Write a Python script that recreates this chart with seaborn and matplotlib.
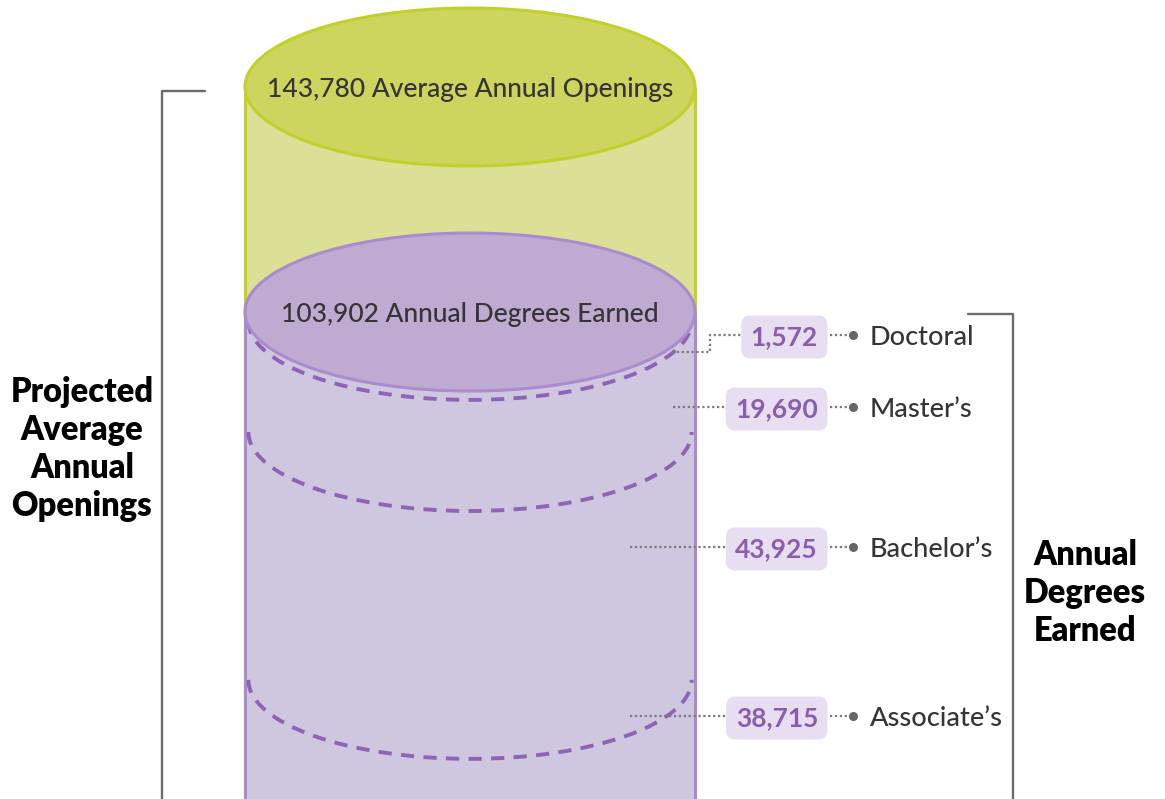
import matplotlib
matplotlib.use("Agg")
import matplotlib.pyplot as plt
import numpy as np
import pandas as pd
import seaborn as sns
from matplotlib.patches import Ellipse, Arc

# ---- data -------------------------------------------------------------
openings_total = 143780
degree_levels = ["Doctoral", "Master\u2019s", "Bachelor\u2019s", "Associate\u2019s"]
degree_counts = [1572, 19690, 43925, 38715]
degrees_total = sum(degree_counts)

# ---- styling ----------------------------------------------------------
GREEN_BODY = "#dbe096"
GREEN_LID = "#cdd55f"
GREEN_EDGE = "#c0d12c"
PURPLE_BODY = "#cfc6e0"
PURPLE_LID = "#bfaad2"
PURPLE_EDGE = "#aa8ccd"
DASH = "#8f63b6"
BOX_FILL = "#e7def1"
VALUE_COLOR = "#8a5db2"
TEXT_DARK = "#353535"
GUIDE = "#7a7a7a"
BRACKET = "#6b6b6b"

W, H = 1165, 799
Y_RANGE = (17600, 159200)     # value range shown on the cylinder axis
CAP = 14000                   # half-height of the elliptical caps (value units)

sns.set_theme(style="white")
plt.rcParams["font.family"] = ["Lato", "DejaVu Sans"]

fig = plt.figure(figsize=(W / 100, H / 100), dpi=100)
ax = fig.add_axes([0, 0, 1, 1])

# cylinder bodies: openings behind, degrees in front
bodies = pd.DataFrame({
    "column": ["all", "all"],
    "layer": ["openings", "degrees"],
    "value": [openings_total, degrees_total],
})
sns.barplot(data=bodies, x="column", y="value", hue="layer",
            hue_order=["openings", "degrees"],
            palette={"openings": GREEN_BODY, "degrees": PURPLE_BODY},
            dodge=False, width=1.0, saturation=1, errorbar=None,
            legend=False, linewidth=0, ax=ax)
bars = ax.patches
bars[0].set_zorder(1)
bars[1].set_zorder(3)

ax.vlines([-0.5, 0.5], 0, openings_total, color=GREEN_EDGE, lw=2.2, zorder=2)
ax.vlines([-0.5, 0.5], 0, degrees_total, color=PURPLE_EDGE, lw=2.2, zorder=4)

# dashed boundaries between degree levels (stacked from the bottom)
stack_from_bottom = degree_counts[::-1]
boundaries = np.cumsum(stack_from_bottom)[:-1]
for b in boundaries:
    ax.add_patch(Arc((0, b), 0.985, 2 * CAP, theta1=180, theta2=360,
                     color=DASH, lw=2.8, linestyle=(0, (3.4, 2.4)), zorder=5))

# elliptical caps
ax.add_patch(Ellipse((0, degrees_total), 1.0, 2 * CAP, fc=PURPLE_LID,
                     ec=PURPLE_EDGE, lw=2.2, zorder=6))
ax.add_patch(Ellipse((0, openings_total), 1.0, 2 * CAP, fc=GREEN_LID,
                     ec=GREEN_EDGE, lw=2.2, zorder=6))

ax.text(0, openings_total, f"{openings_total:,} Average Annual Openings",
        ha="center", va="center_baseline", fontsize=19, color=TEXT_DARK,
        fontweight="medium", zorder=7)
ax.text(0, degrees_total, f"{degrees_total:,} Annual Degrees Earned",
        ha="center", va="center_baseline", fontsize=19, color=TEXT_DARK,
        fontweight="medium", zorder=7)

ax.set_xlim(-0.5 - 245 / 450, 0.5 + (W - 695) / 450)
ax.set_ylim(*Y_RANGE)
ax.axis("off")


# ---- annotations (figure pixel layout) --------------------------------
def fp(x, y):
    return x / W, 1 - y / H


def fig_line(points, **kw):
    xs, ys = zip(*[fp(x, y) for x, y in points])
    ax.plot(xs, ys, transform=fig.transFigure, clip_on=False, **kw)


# brackets
fig_line([(205, 91), (162, 91), (162, 805)], color=BRACKET, lw=1.7, zorder=8)
fig_line([(968, 314), (1013, 314), (1013, 805)], color=BRACKET, lw=1.7, zorder=8)

fig.text(*fp(82, 449), "Projected\nAverage\nAnnual\nOpenings", ha="center",
         va="center", fontsize=23.5, fontweight="heavy", color="black",
         linespacing=1.24)
fig.text(*fp(1085, 593), "Annual\nDegrees\nEarned", ha="center",
         va="center", fontsize=23.5, fontweight="heavy", color="black",
         linespacing=1.24)

row_y = [335, 407, 547, 716]
leader_paths = [
    [(672, 352), (710, 352), (710, 335), (780, 335)],
    [(673, 407), (780, 407)],
    [(630, 547), (780, 547)],
    [(630, 716), (780, 716)],
]
dotted = dict(color=GUIDE, lw=1.6, linestyle=(0, (1, 1.2)), zorder=8)

for level, count, y, path in zip(degree_levels, degree_counts, row_y, leader_paths):
    fig_line(path, **dotted)
    fig.text(*fp(818, y), f"{count:,}", ha="right", va="center_baseline",
             fontsize=19, fontweight="bold", color=VALUE_COLOR, zorder=10,
             bbox=dict(boxstyle="round,pad=0.36,rounding_size=0.35",
                       fc=BOX_FILL, ec="none"))
    fig_line([(830, y), (850, y)], **dotted)
    ax.scatter(*fp(853, y), s=30, color="#666666", transform=fig.transFigure,
               clip_on=False, zorder=9)
    fig.text(*fp(870, y), level, ha="left", va="center_baseline",
             fontsize=19.5, color=TEXT_DARK, fontweight="medium")

fig.savefig("out.png", dpi=100, facecolor="white")
